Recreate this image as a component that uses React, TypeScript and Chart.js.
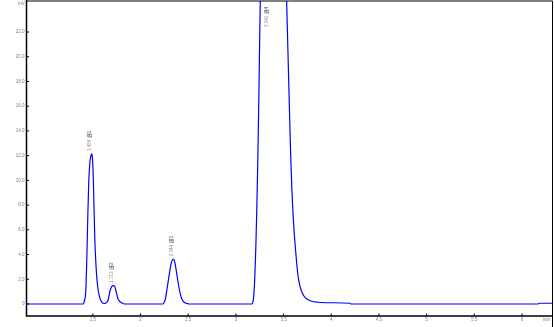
import React, { useEffect, useRef } from "react";
import { Chart, registerables } from "chart.js";

Chart.register(...registerables);

// Chromatogram trace (time in min, signal in mV)
const times = [
  0.805, 1.398, 1.4108, 1.4266, 1.4392, 1.4476, 1.458, 1.4685, 1.479, 1.4864, 1.4948, 1.5031, 1.5105, 1.521,
  1.5315, 1.542, 1.5556, 1.5734, 1.5944, 1.6206,
  1.6332, 1.6605, 1.6783, 1.6962, 1.7129, 1.7308, 1.7486, 1.7654, 1.8011, 1.8357,
  2.2343, 2.25, 2.2605, 2.2763, 2.2972, 2.3182, 2.334, 2.3444, 2.3549, 2.3707, 2.3916, 2.4126, 2.4336, 2.4546,
  2.486, 2.5175,
  3.1679, 3.1784, 3.1889, 3.1994, 3.2099, 3.2203, 3.2308, 3.2413, 3.2518, 3.256, 3.2675, 3.341, 3.5193,
  3.5319, 3.5455, 3.5592, 3.5728, 3.5875, 3.6032, 3.619, 3.6347, 3.6505, 3.6662, 3.6872, 3.7134, 3.7449,
  3.7868, 3.8603, 3.9862, 4.1959, 4.2064, 6.168, 6.1785, 6.3201,
];
const signal = [
  0, 0, 0.24, 1.13, 4.37, 7.2, 10.03, 11.41, 11.97, 12.14, 11.89, 10.68, 8.41, 5.18,
  3.4, 2.1, 1.13, 0.49, 0.16, 0.04,
  0.06, 0.32, 1.0, 1.4, 1.48, 1.4, 0.87, 0.38, 0.11, 0,
  0, 0.16, 0.4, 1.13, 2.18, 3.16, 3.56, 3.62, 3.52, 2.91, 1.86, 0.97, 0.4, 0.16,
  0.04, 0,
  0, 0.16, 0.81, 2.35, 4.77, 8.01, 12.06, 16.91, 22.57, 24.6, 30, 38, 28,
  24.6, 20.55, 16.5, 12.46, 9.22, 6.8, 5.02, 3.56, 2.35, 1.62, 1.05, 0.65, 0.4,
  0.24, 0.14, 0.1, 0.06, 0, 0, 0.06, 0.06,
];

const xTickValues = [1.5, 2, 2.5, 3, 3.5, 4, 4.5, 5, 5.5, 6];
const xTickLabels = ["1.5", "2", "2.5", "3", "3.5", "4", "4.5", "5", "5.5", "6"];
const yTickValues = [0, 2, 4, 6, 8, 10, 12, 14, 16, 18, 20, 22];
const yTickLabels = ["0", "2.0", "4.0", "6.0", "8.0", "10.0", "12.0", "14.0", "16.0", "18.0", "20.0", "22.0"];
const xUnit = "min";
const yUnit = "mV";

const peakTimes = [1.484, 1.713, 2.344, 3.341];
const peakHeights = [12.14, 1.48, 3.62, 38];
const peakTimeLabels = ["1.484", "1.713", "2.344", "3.341"];
const peakNames = ["峰1", "峰2", "峰3", "峰4"];

const X_MIN = 0.8045;
const X_MAX = 6.32;
const Y_MIN = -0.971;
const Y_MAX = 24.51;

const FONT = "'Liberation Sans', Arial, sans-serif";
const TICK_COLOR = "#808080";

const framePlugin = {
  id: "frame",
  afterDraw(chart: any) {
    const { ctx, chartArea, scales } = chart;
    const { left, right, top, bottom } = chartArea;
    const xs = scales.x;
    const ys = scales.y;
    ctx.save();
    // peak labels
    ctx.font = `4.5px ${FONT}, 'Noto Sans CJK SC'`;
    ctx.textAlign = "left";
    ctx.textBaseline = "middle";
    peakTimes.forEach((t, i) => {
      const px = xs.getPixelForValue(t) - 1.5;
      const h = Math.min(peakHeights[i], Y_MAX);
      const py = Math.max(ys.getPixelForValue(h) - 3, top + 26);
      ctx.save();
      ctx.translate(px, py);
      ctx.rotate(-Math.PI / 2);
      ctx.fillStyle = "#a08898";
      ctx.fillText(peakTimeLabels[i], 0, 0);
      const w = ctx.measureText(peakTimeLabels[i]).width;
      ctx.fillStyle = "#3c5a6a";
      ctx.fillText(peakNames[i], w + 2, 0);
      ctx.restore();
    });
    // frame
    ctx.strokeStyle = "#000";
    ctx.lineWidth = 1;
    ctx.beginPath();
    ctx.moveTo(left, top);
    ctx.lineTo(right, top);
    ctx.moveTo(right, top);
    ctx.lineTo(right, chart.height);
    ctx.stroke();
    ctx.lineWidth = 1.5;
    ctx.beginPath();
    ctx.moveTo(left, 0);
    ctx.lineTo(left, bottom);
    ctx.lineTo(right + 0.5, bottom);
    ctx.stroke();
    // tick marks (inward)
    ctx.lineWidth = 1;
    ctx.beginPath();
    yTickValues.forEach((v) => {
      const py = ys.getPixelForValue(v);
      ctx.moveTo(left, py);
      ctx.lineTo(left + 2.5, py);
    });
    xTickValues.forEach((v) => {
      const px = xs.getPixelForValue(v);
      ctx.moveTo(px, bottom);
      ctx.lineTo(px, bottom - 2.5);
    });
    ctx.stroke();
    // unit labels
    ctx.font = `4.5px ${FONT}`;
    ctx.fillStyle = TICK_COLOR;
    ctx.textBaseline = "middle";
    ctx.textAlign = "center";
    ctx.fillText(xUnit, 546.5, bottom + 3.5);
    ctx.textAlign = "right";
    ctx.fillText(yUnit, left - 1.8, 3.5);
    ctx.restore();
  },
};

export default function App() {
  const ref = useRef<HTMLCanvasElement | null>(null);
  useEffect(() => {
    document.body.style.margin = "0";
    const canvas = ref.current;
    if (!canvas) return;
    const chart = new Chart(canvas, {
      type: "line",
      data: {
        datasets: [
          {
            data: times.map((t, i) => ({ x: t, y: signal[i] })),
            borderColor: "#0000ff",
            borderWidth: 1.2,
            pointRadius: 0,
            cubicInterpolationMode: "monotone",
            fill: false,
          },
        ],
      },
      options: {
        responsive: false,
        animation: false,
        devicePixelRatio: 1,
        layout: { padding: { top: 1, right: 1.5, left: 0, bottom: 0 } },
        plugins: { legend: { display: false }, tooltip: { enabled: false } },
        scales: {
          x: {
            type: "linear",
            min: X_MIN,
            max: X_MAX,
            afterBuildTicks: (s: any) => {
              s.ticks = xTickValues.map((v) => ({ value: v }));
            },
            afterFit: (s: any) => {
              s.height = 11;
              s.paddingLeft = 0;
              s.paddingRight = 0;
              s.paddingTop = 0;
              s.paddingBottom = 0;
            },
            grid: { display: false, drawTicks: false, tickLength: 0 },
            border: { display: false },
            ticks: {
              autoSkip: false,
              maxRotation: 0,
              padding: 1.5,
              color: TICK_COLOR,
              font: { size: 4.5, family: FONT },
              callback: (_v: any, i: number) => xTickLabels[i],
            },
          },
          y: {
            type: "linear",
            min: Y_MIN,
            max: Y_MAX,
            afterBuildTicks: (s: any) => {
              s.ticks = yTickValues.map((v) => ({ value: v }));
            },
            afterFit: (s: any) => {
              s.width = 26.5;
              s.paddingLeft = 0;
              s.paddingRight = 0;
              s.paddingTop = 0;
              s.paddingBottom = 0;
            },
            grid: { display: false, drawTicks: false, tickLength: 0 },
            border: { display: false },
            ticks: {
              autoSkip: false,
              padding: 2,
              color: TICK_COLOR,
              font: { size: 4.5, family: FONT },
              callback: (_v: any, i: number) => yTickLabels[i],
            },
          },
        },
      },
      plugins: [framePlugin],
    } as any);
    return () => chart.destroy();
  }, []);
  return <canvas ref={ref} width={554} height={327} style={{ display: "block" }} />;
}
